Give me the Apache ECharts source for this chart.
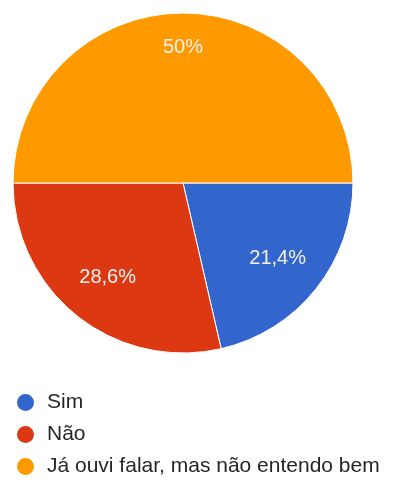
<!DOCTYPE html>
<html>
<head>
<meta charset="utf-8">
<script src="https://cdn.jsdelivr.net/npm/echarts@6/dist/echarts.min.js"></script>
<style>
    html, body { margin: 0; padding: 0; background: #fff; }
    #chart { width: 400px; height: 483px; }
</style>
</head>
<body>
<div id="chart"></div>
<script>
const categories = ['Sim', 'Não', 'Já ouvi falar, mas não entendo bem'];
const values = [21.4, 28.6, 50];
const labels = ['21,4%', '28,6%', '50%'];
const colors = ['#3366CC', '#DC3912', '#FF9900'];

const font = 'Arial, "Liberation Sans", sans-serif';

const chart = echarts.init(document.getElementById('chart'));
chart.setOption({
    animation: false,
    color: colors,
    legend: {
        orient: 'vertical',
        left: 15,
        top: 392,
        height: 91,
        padding: 0,
        icon: 'circle',
        itemWidth: 19,
        itemHeight: 19,
        itemGap: 11,
        data: categories,
        textStyle: {
            color: '#262626',
            fontSize: 21,
            lineHeight: 19,
            fontFamily: font,
            padding: [0, 0, 0, 7]
        }
    },
    series: [
        {
            // filled slices
            type: 'pie',
            center: [183, 183],
            radius: [0, 170],
            startAngle: 0,
            clockwise: true,
            silent: true,
            label: { show: false },
            labelLine: { show: false },
            itemStyle: {
                borderColor: '#fff',
                borderWidth: 1
            },
            data: categories.map((name, i) => ({ name, value: values[i] }))
        },
        {
            // transparent ring just to carry the percentage labels further out
            type: 'pie',
            center: [183, 183],
            radius: [66, 170],
            startAngle: 0,
            clockwise: true,
            silent: true,
            itemStyle: { color: 'rgba(0,0,0,0)' },
            label: {
                show: true,
                position: 'inside',
                color: '#f2f2f2',
                fontSize: 20,
                fontFamily: font,
                formatter: p => labels[p.dataIndex]
            },
            labelLine: { show: false },
            data: categories.map((name, i) => ({
                name,
                value: values[i],
                // the big slice's label sits nearer the rim
                label: i === 2 ? { offset: [0, -15] } : undefined
            }))
        }
    ]
});
</script>
</body>
</html>
